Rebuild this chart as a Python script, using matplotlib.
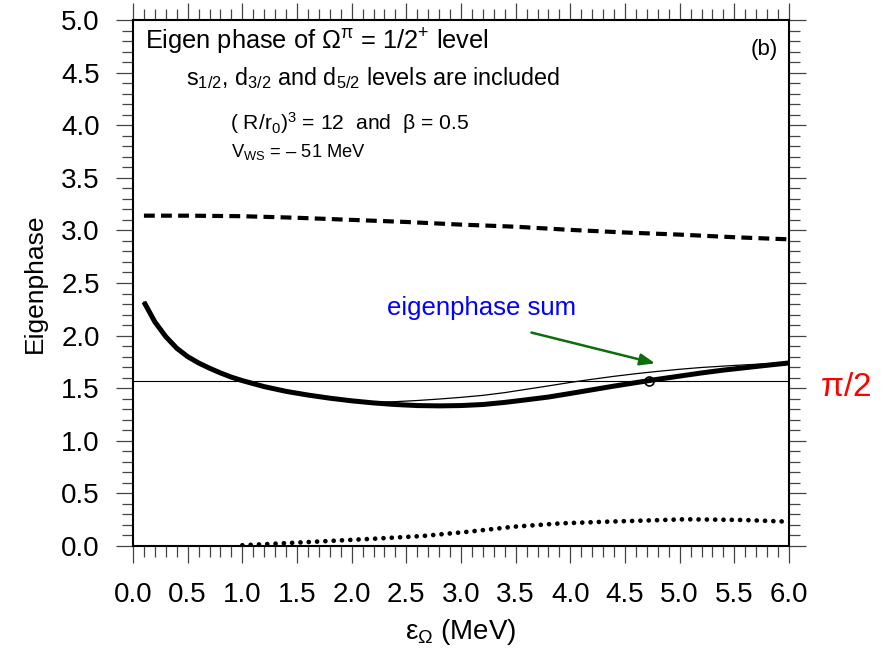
import matplotlib
matplotlib.use("Agg")
import matplotlib.pyplot as plt
from matplotlib.ticker import MultipleLocator, FormatStrFormatter

plt.rcParams['font.family'] = ['Liberation Sans', 'DejaVu Sans']
plt.rcParams['mathtext.fontset'] = 'custom'
plt.rcParams['mathtext.rm'] = 'Liberation Sans'
plt.rcParams['mathtext.it'] = 'Liberation Sans'
plt.rcParams['mathtext.bf'] = 'Liberation Sans:bold'

# ---- data ----
thick_x = [0.10, 0.2, 0.3, 0.4, 0.5, 0.6, 0.7, 0.8, 0.9, 1.0, 1.2, 1.4, 1.6, 1.8, 2.0, 2.2, 2.4, 2.6,
           2.8, 3.0, 3.2, 3.4, 3.6, 3.8, 4.0, 4.2, 4.4, 4.6, 4.8, 5.0, 5.2, 5.4, 5.6, 5.8, 6.0]
thick_y = [2.32, 2.13, 1.99, 1.88, 1.80, 1.74, 1.69, 1.645, 1.605, 1.572, 1.515, 1.47, 1.435, 1.405,
           1.38, 1.36, 1.345, 1.335, 1.332, 1.335, 1.345, 1.365, 1.39, 1.416, 1.45, 1.485, 1.52,
           1.553, 1.585, 1.615, 1.645, 1.672, 1.695, 1.718, 1.74]

thin_x = [0.10, 0.2, 0.3, 0.4, 0.5, 0.6, 0.7, 0.8, 0.9, 1.0, 1.2, 1.4, 1.6, 1.8, 2.0, 2.2, 2.4, 2.6,
          2.8, 3.0, 3.2, 3.4, 3.6, 3.8, 4.0, 4.2, 4.4, 4.6, 4.8, 5.0, 5.2, 5.4, 5.6, 5.8, 6.0]
thin_y = [2.32, 2.13, 1.99, 1.88, 1.80, 1.74, 1.69, 1.645, 1.605, 1.572, 1.515, 1.47, 1.435, 1.405,
          1.382, 1.366, 1.372, 1.383, 1.397, 1.413, 1.432, 1.458, 1.49, 1.522, 1.555, 1.585, 1.613,
          1.638, 1.66, 1.68, 1.697, 1.71, 1.722, 1.733, 1.742]

dash_x = [0.1, 0.5, 1.0, 1.5, 2.0, 2.5, 3.0, 3.5, 4.0, 4.5, 5.0, 5.5, 6.0]
dash_y = [3.14, 3.14, 3.135, 3.12, 3.10, 3.08, 3.055, 3.035, 3.005, 2.98, 2.96, 2.935, 2.915]

dot_x = [1.0, 1.38, 1.80, 2.22, 2.65, 3.07, 3.49, 3.91, 4.33, 4.75, 5.05, 5.59, 6.0]
dot_y = [0.007, 0.026, 0.048, 0.070, 0.095, 0.136, 0.184, 0.215, 0.231, 0.244, 0.254, 0.247, 0.231]

half_pi = 1.5708
cross_x = [4.72]
cross_y = [1.5708]

x_ticks = [0.0, 0.5, 1.0, 1.5, 2.0, 2.5, 3.0, 3.5, 4.0, 4.5, 5.0, 5.5, 6.0]
y_ticks = [0.0, 0.5, 1.0, 1.5, 2.0, 2.5, 3.0, 3.5, 4.0, 4.5, 5.0]

# ---- figure ----
fig = plt.figure(figsize=(8.89, 6.57), dpi=100)
ax = fig.add_axes([133/889, 1-546/657, (789-133)/889, (546-20)/657])

ax.plot(thick_x, thick_y, color='black', lw=3.6, solid_capstyle='butt', solid_joinstyle='round', zorder=3)
ax.plot(thin_x, thin_y, color='black', lw=0.9, zorder=4)
ax.plot(dash_x, dash_y, color='black', lw=3.0, dashes=(2.6, 1.5), dash_capstyle='butt', zorder=3)
ax.plot(dot_x, dot_y, color='black', lw=3.4, linestyle=(0, (0.01, 1.75)), dash_capstyle='round', zorder=3)
ax.axhline(half_pi, color='black', lw=0.8, zorder=2)
ax.plot(cross_x, cross_y, 'o', ms=6.5, mfc='none', mec='black', mew=1.2, zorder=5)

ax.set_xlim(0, 6)
ax.set_ylim(0, 5)
ax.set_xticks(x_ticks)
ax.set_yticks(y_ticks)
ax.xaxis.set_minor_locator(MultipleLocator(0.1))
ax.yaxis.set_minor_locator(MultipleLocator(0.1))
ax.xaxis.set_major_formatter(FormatStrFormatter('%.1f'))
ax.yaxis.set_major_formatter(FormatStrFormatter('%.1f'))
ax.tick_params(which='both', direction='out', top=True, right=True, width=0.9, color='#444444')
ax.tick_params(which='major', length=12)
ax.tick_params(which='minor', length=8)
ax.tick_params(axis='x', which='major', labelsize=20, pad=14)
ax.tick_params(axis='y', which='major', labelsize=20, pad=12)
for s in ax.spines.values():
    s.set_linewidth(1.5)

fig.text(35/889, 1-283/657, 'Eigenphase', rotation=90, ha='center', va='center', fontsize=19)
fig.text(461/889, 1-632/657, r'$\epsilon_{\Omega}$ (MeV)', ha='center', va='center', fontsize=20)

ax.text(0.0183, 0.943, r'Eigen phase of $\Omega^{\pi}$ = 1/2$^{+}$ level', transform=ax.transAxes,
        fontsize=18.3, ha='left', va='baseline')
ax.text(0.0808, 0.876, r's$_{1/2}$, d$_{3/2}$ and d$_{5/2}$ levels are included', transform=ax.transAxes,
        fontsize=16.8, ha='left', va='baseline')
ax.text(0.148, 0.791, r'( R/r$_0$)$^3$ = 12  and  $\beta$ = 0.5', transform=ax.transAxes,
        fontsize=15.2, ha='left', va='baseline')
ax.text(0.149, 0.740, r'V$_{WS}$ = – 51 MeV', transform=ax.transAxes,
        fontsize=13.2, ha='left', va='baseline')
ax.text(0.983, 0.933, '(b)', transform=ax.transAxes, fontsize=16, ha='right', va='baseline')

ax.text(3.19, 2.26, 'eigenphase sum', color='blue', fontsize=18.5, ha='center', va='center')
ax.annotate('', xy=(4.80, 1.73), xytext=(3.62, 2.035),
            arrowprops=dict(arrowstyle='-|>,head_length=0.9,head_width=0.35', color='#0b6e0b', lw=1.8))

fig.text(846/889, 1-387/657, r'$\pi$/2', color='red', fontsize=24, ha='center', va='center')

fig.savefig('out.png', dpi=100, facecolor='white')
